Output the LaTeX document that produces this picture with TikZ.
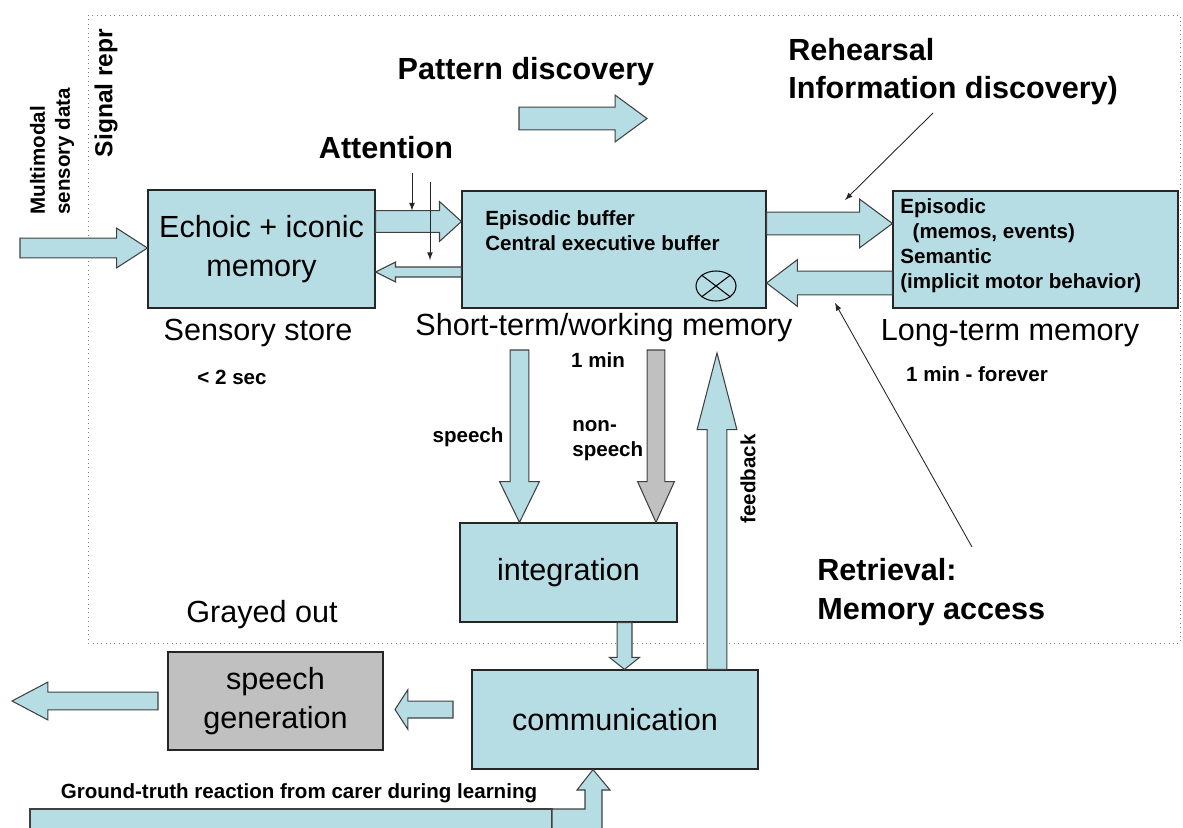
\documentclass[tikz,border=0pt]{standalone}
\usepackage{fontspec}
\setmainfont{Liberation Sans}
\usetikzlibrary{positioning,calc,arrows,shapes.geometric}
\definecolor{boxcyan}{RGB}{183,221,228}
\definecolor{boxgray}{RGB}{192,192,192}
\newcommand{\bigtxt}{\fontsize{17.4}{22}\selectfont}
\newcommand{\smalltxt}{\fontsize{11.7}{14.2}\selectfont\bfseries}
\tikzset{
  memory/.style={draw=black!85, fill=boxcyan, line width=0.7pt, inner sep=0pt, font=\bigtxt, align=center},
  blockfill/.style={draw=black!75, fill=boxcyan, line width=0.6pt, line join=miter},
  smallnote/.style={font=\smalltxt, inner sep=0pt},
  bigtitle/.style={font=\bigtxt\bfseries, inner sep=0pt, align=left},
  bigcaption/.style={font=\bigtxt, inner sep=0pt},
  pointer/.style={-latex, line width=0.5pt, black!85},
  blockarrow/.style n args={3}{to path={
    let \p1=(\tikztostart), \p2=(\tikztotarget),
        \n1={atan2(\y2-\y1,\x2-\x1)},
        \n2={veclen(\x2-\x1,\y2-\y1)-#3*0.5669pt},
        \n3={#1*0.5669pt}, \n4={#2*0.5669pt} in
    ([shift={(\p1)},rotate=\n1]0pt,\n3)
    -- ([shift={(\p1)},rotate=\n1]\n2,\n3)
    -- ([shift={(\p1)},rotate=\n1]\n2,\n4)
    -- (\p2)
    -- ([shift={(\p1)},rotate=\n1]\n2,-\n4)
    -- ([shift={(\p1)},rotate=\n1]\n2,-\n3)
    -- ([shift={(\p1)},rotate=\n1]0pt,-\n3) -- cycle}}
}
\begin{document}
\begin{tikzpicture}[x=0.02cm,y=-0.02cm]
\useasboundingbox (0,0) rectangle (1183,828);
\clip (0,0) rectangle (1183,828);
\draw[gray, dotted, line width=0.5pt] (88,15) rectangle (1180,643);

\node[memory, minimum width=4.54cm, minimum height=2.36cm] (echo) at (261.5,249) {Echoic + iconic\\memory};
\node[memory, minimum width=6.08cm, minimum height=2.34cm] (buf) at (614,249.5) {};
\node[smallnote, anchor=west, align=left] (buftxt) at (485,230.5) {Episodic buffer\\Central executive buffer};
\node[draw, ellipse, minimum width=0.8cm, minimum height=0.6cm, inner sep=0pt, line width=0.6pt] (otimes) at (716,286) {};
\draw[line width=0.6pt] (otimes.north west) -- (otimes.south east) (otimes.north east) -- (otimes.south west);
\node[memory, minimum width=5.7cm, minimum height=2.34cm] (ltm) at (1035.5,249.5) {};
\node[smallnote, anchor=west, align=left] (ltmtxt) at (900,245.5) {Episodic\\\hspace{7pt}(memos, events)\\Semantic\\(implicit motor behavior)};
\node[memory, minimum width=4.34cm, minimum height=1.98cm] (integ) at (568.5,572.5) {integration};
\node[memory, minimum width=5.72cm, minimum height=1.98cm] (comm) at (615,719.5) {communication};
\node[memory, fill=boxgray, minimum width=4.3cm, minimum height=1.96cm] (gen) at (275.5,701) {speech\\generation};

\node[bigtitle, font=\fontsize{14}{17}\selectfont\bfseries, rotate=90] (signal) at (106,93) {Signal repr};
\node[smallnote, rotate=90, anchor=west, align=left] (multi) at (52,215) {Multimodal\\sensory data};
\node[bigtitle] (attn) at (386,148) {Attention};
\node[bigtitle] (pattern) at (526,72) {Pattern discovery};
\node[bigtitle, anchor=west] (rehearsal) at (788,71.5) {Rehearsal\\Information discovery)};
\node[bigcaption] (sensory) at (258,333) {Sensory store};
\node[smallnote] (twosec) at (232,377) {< 2 sec};
\node[bigcaption] (stm) at (604,328) {Short-term/working memory};
\node[smallnote] (onemin) at (598,360) {1 min};
\node[bigcaption] (ltmcap) at (1010,333) {Long-term memory};
\node[smallnote] (forever) at (977,374) {1 min - forever};
\node[smallnote] (speechlbl) at (468,437) {speech};
\node[smallnote, anchor=west, align=left] (nonspeech) at (572,440.5) {non-\\speech};
\node[smallnote, rotate=90] (feedback) at (748,479) {feedback};
\node[bigtitle, anchor=west] (retrieval) at (817,592) {Retrieval:\\Memory access};
\node[bigcaption] (grayed) at (262,615) {Grayed out};
\node[smallnote] (truth) at (299,793) {Ground-truth reaction from carer during learning};

\coordinate (in0) at (20,248);
\coordinate (pat0) at (519,118.5);
\coordinate (pat1) at (647,118.5);
\coordinate (sp0) at (519.5,350);
\coordinate (ns0) at (656,350);
\coordinate (fb1) at (717,353);
\coordinate (cg0) at (453,709.5);
\coordinate (cg1) at (395,709.5);
\coordinate (out0) at (158,701);
\coordinate (out1) at (12,701);
\coordinate (gttip) at (comm.south -| 593,0);
\coordinate (att1) at (412,173);
\coordinate (att2) at (430,182);
\coordinate (reh0) at (933,113);
\coordinate (reh1) at (845,200);
\coordinate (ret0) at (972,547);
\coordinate (ret1) at (835,303);

\draw[blockfill] (in0) to[blockarrow={10}{20}{31}] (echo.west |- in0);
\draw[blockfill] (echo.east |- 0,221.5) to[blockarrow={11}{20}{22}] (buf.west |- 0,221.5);
\draw[blockfill] (buf.west |- 0,272) to[blockarrow={5}{10}{20}] (echo.east |- 0,272);
\draw[blockfill] (pat0) to[blockarrow={11.5}{23.5}{32}] (pat1);
\draw[blockfill] (buf.east |- 0,223.5) to[blockarrow={11.5}{24.5}{33}] (ltm.west |- 0,223.5);
\draw[blockfill] (ltm.west |- 0,283) to[blockarrow={12}{23.5}{31}] (buf.east |- 0,283);
\draw[blockfill] (sp0) to[blockarrow={9.5}{20}{41}] (integ.north -| sp0);
\draw[blockfill, fill=boxgray] (ns0) to[blockarrow={9}{18.5}{41}] (integ.north -| ns0);
\draw[blockfill] (comm.north -| fb1) to[blockarrow={10}{20}{77}] (fb1);
\draw[blockfill] (integ.south -| 624.5,0) to[blockarrow={7.5}{15}{12}] (comm.north -| 624.5,0);
\draw[blockfill] (cg0) to[blockarrow={8.5}{20}{13}] (cg1);
\draw[blockfill] (out0) to[blockarrow={9}{19}{36}] (out1);
\draw[blockfill] (30,809) rectangle (552,840);
\draw[blockfill] (552,809) -- (585,809) -- (585,790) -- (577,790) -- (gttip) -- (610,790) -- (602,790) -- (602,840) -- (552,840) -- cycle;

\draw[pointer] (att1) -- (att1 |- 0,210.5);
\draw[pointer] (att2) -- (att2 |- 0,260);
\draw[pointer] (reh0) -- (reh1);
\draw[pointer] (ret0) -- (ret1);
\end{tikzpicture}
\end{document}
